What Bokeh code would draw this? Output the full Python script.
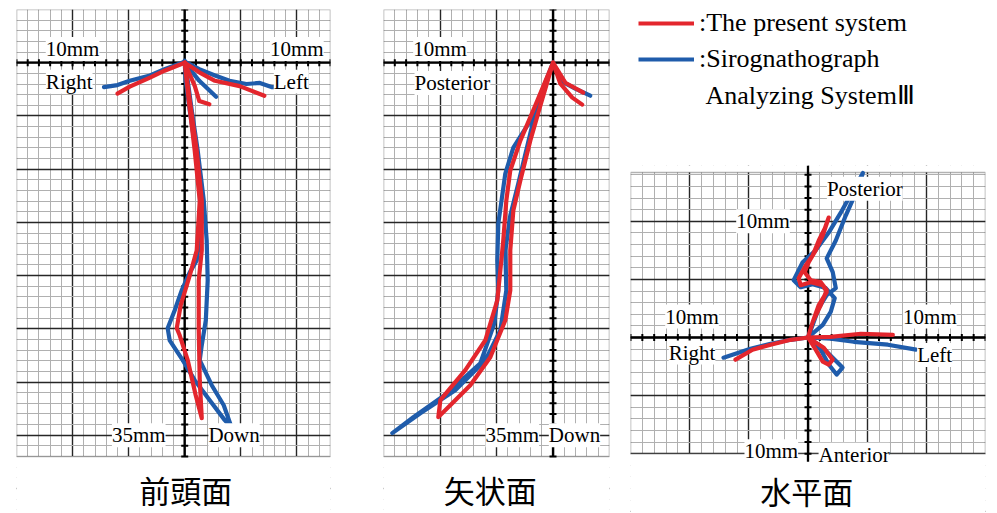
import numpy as np
from bokeh.plotting import figure
from bokeh.models import (Range1d, SingleIntervalTicker, Grid, Label, Legend, LegendItem,
                          BoxAnnotation)
from bokeh.layouts import row, column
from bokeh.embed import file_html
from bokeh.resources import INLINE

RED = "#e3262d"
BLUE = "#1f5cab"
SERIF = "Liberation Serif"

# ---------------- data (mm) ----------------
# Frontal plane (前頭面): x = lateral, y = vertical (down negative)
fr_blue_right_x = [0, -1.8, -3.1, -4.9, -6.0, -7.2]
fr_blue_right_y = [0.1, -0.6, -1.2, -1.7, -2.1, -2.3]
fr_blue_left_x = [0, 1.3, 2.7, 4.0, 5.5, 6.7, 7.8, 8.9]
fr_blue_left_y = [0.1, -0.6, -1.2, -1.7, -2.0, -1.9, -2.3, -2.3]
fr_blue_short_x = [0, 1.3, 2.8]
fr_blue_short_y = [0, -1.7, -3.2]
fr_blue_open_x = [0, 0.27, 0.63, 1.16, 1.70, 1.96, 2.05, 1.88, 1.52, 1.34, 2.41, 3.48, 4.20,
                  3.57, 2.23, 0.89, -0.18, -1.34, -1.52, -0.89, -0.27, 0.45, 1.07, 1.43, 1.34,
                  0.98, 0.45, 0.09, 0]
fr_blue_open_y = [0.19, -1.69, -4.50, -8.26, -12.95, -16.70, -20.45, -24.20, -26.55, -27.95,
                  -30.30, -32.18, -34.33, -33.58, -31.71, -29.83, -27.95, -26.08, -24.95,
                  -23.26, -21.39, -19.70, -18.57, -15.76, -12.01, -8.26, -4.50, -1.69, 0]

fr_red_right_x = [0, -1.8, -3.1, -4.9, -6.0]
fr_red_right_y = [0, -0.75, -1.4, -2.25, -2.9]
fr_red_left_x = [0, 1.3, 2.7, 4.9, 7.1]
fr_red_left_y = [0, -0.9, -1.7, -2.2, -3.1]
fr_red_short_x = [0, 0.9, 1.3, 2.2]
fr_red_short_y = [0, -2.2, -3.6, -3.9]
fr_red_open_x = [0, 0.45, 1.07, 1.52, 1.52, 1.25, 1.25, 1.34, 1.52, 0.98, 0.27, -0.45, -0.71,
                 -0.36, 0.45, 1.07, 1.34, 0.89, 0.36, 0]
fr_red_open_y = [0, -3.56, -8.26, -12.95, -17.64, -20.45, -25.14, -29.83, -33.40, -31.24,
                 -27.95, -25.61, -24.95, -22.80, -19.98, -17.64, -12.95, -8.26, -3.56, 0]

# Sagittal plane (矢状面): x = antero-posterior (posterior negative), y = vertical
sa_blue_ant_x = [0, 0.65, 1.97, 3.30]
sa_blue_ant_y = [0, -1.69, -2.44, -3.10]
sa_blue_open_x = [0, -1.83, -3.51, -4.22, -4.84, -4.93, -4.84, -5.19, -6.43, -9.35, -12.36,
                  -14.22, -11.74, -8.65, -5.99, -4.66, -4.13, -4.22, -3.78, -3.07, -2.01,
                  -1.30, 0]
sa_blue_open_y = [0, -5.16, -7.97, -10.41, -15.10, -18.57, -21.39, -24.48, -28.24, -31.05,
                  -33.30, -34.80, -32.93, -30.77, -27.95, -25.14, -21.39, -17.64, -14.35,
                  -11.35, -6.66, -3.56, 0]

sa_red_ant1_x = [0, 0.65, 1.71, 2.59]
sa_red_ant1_y = [0, -1.97, -3.28, -3.94]
sa_red_ant2_x = [0, 1.09, 2.68]
sa_red_ant2_y = [0, -1.88, -2.81]
sa_red_open_x = [0, -1.57, -2.89, -3.78, -4.13, -4.40, -4.66, -4.93, -5.99, -7.76, -9.97,
                 -10.15, -9.09, -7.32, -5.55, -4.22, -3.78, -3.78, -3.51, -2.89, -2.01,
                 -1.12, 0]
sa_red_open_y = [0, -4.03, -7.32, -10.13, -12.95, -16.70, -19.51, -22.33, -26.08, -28.89,
                 -31.71, -33.30, -32.18, -30.30, -27.67, -24.20, -21.39, -17.64, -13.88,
                 -11.07, -7.32, -4.03, 0]

# Horizontal plane (水平面): x = lateral, y = antero-posterior (posterior positive)
ho_blue_right_x = [0, -1.47, -3.16, -4.86, -7.14]
ho_blue_right_y = [0, -0.20, -0.54, -0.97, -1.74]
ho_blue_left_x = [0, 1.92, 3.87, 6.75, 9.13]
ho_blue_left_y = [0, -0.11, -0.37, -0.62, -1.05]
ho_blue_ant_x = [0, 1.08, 1.75, 2.42, 2.92, 2.09, 1.25, 0]
ho_blue_ant_y = [0, -1.05, -2.33, -3.19, -2.59, -1.74, -0.88, 0]
ho_blue_post_x = [0, 0.40, 0.91, 1.58, 2.35, 2.09, 1.58, 2.35, 3.19, 4.30, 4.64, 3.79, 2.77,
                  1.75, 0.65, -0.45, -1.21, -0.62, 0.40, 1.50, 2.26, 1.92, 1.25, 0]
ho_blue_post_y = [0, 1.09, 2.54, 3.65, 4.25, 5.62, 6.81, 8.35, 10.49, 13.05, 14.16, 12.62,
                  10.74, 9.03, 7.50, 6.47, 4.93, 4.33, 4.59, 4.25, 3.39, 2.20, 1.09, 0]

ho_red_right_x = [0, -1.47, -3.16, -4.69, -6.13]
ho_red_right_y = [0, -0.20, -0.62, -1.05, -1.91]
ho_red_left_x = [0, 1.92, 4.47, 7.17]
ho_red_left_y = [0, 0.06, 0.32, 0.23]
ho_red_ant_x = [0, 0.65, 1.25, 1.75, 2.09, 1.33, 0]
ho_red_ant_y = [0, -1.05, -2.08, -2.33, -1.91, -0.88, 0]
ho_red_post_x = [0, 0.40, 0.91, 1.58, 1.25, 0.23, -0.62, -0.79, -0.19, 0.40, 0.91, 1.42, 1.75,
                 1.25, 0.65, 0.06, -0.28, 0.23, 1.08, 1.58, 1.08, 0.40, 0]
ho_red_post_y = [0, 1.34, 2.79, 3.91, 4.50, 4.76, 4.50, 5.10, 6.21, 7.07, 8.35, 9.38, 10.32,
                 8.78, 7.50, 6.47, 5.62, 4.93, 4.76, 4.08, 2.79, 1.34, 0]

legend_labels = [":The present system", ":Sirognathograph", "\u00a0Analyzing System\u2162"]
panel_titles = ["前頭面", "矢状面", "水平面"]


def panel(xr, yr, box, vext, fw, fh, bl, br, bt):
    """Graph-paper panel: frame covers xr x yr; the ruled box is `box`."""
    p = figure(x_range=Range1d(*xr), y_range=Range1d(*yr), frame_width=fw, frame_height=fh,
               min_border_left=bl, min_border_right=br, min_border_top=bt, min_border_bottom=0,
               x_axis_type=None, y_axis_type=None, toolbar_location=None,
               output_backend="svg")
    p.outline_line_color = None
    p.background_fill_color = "white"
    p.border_fill_color = "white"
    for dim in (0, 1):
        p.add_layout(Grid(dimension=dim,
                          ticker=SingleIntervalTicker(interval=5, num_minor_ticks=5),
                          grid_line_color="#262626", grid_line_width=1.4,
                          minor_grid_line_color="#b0b0b0", minor_grid_line_width=1))
    x0, x1, y0, y1 = box
    # white paper outside the ruled box
    p.add_layout(BoxAnnotation(top=y0, fill_color="white", fill_alpha=1, line_alpha=0,
                               level="underlay"))
    p.add_layout(BoxAnnotation(bottom=y1, fill_color="white", fill_alpha=1, line_alpha=0,
                               level="underlay"))
    p.add_layout(BoxAnnotation(left=x0, right=x1, bottom=y0, top=y1, fill_alpha=0,
                               line_color="black", line_width=1.6, level="underlay"))
    # central axes with tick marks
    p.segment(x0=[x0, 0], y0=[0, vext[0]], x1=[x1, 0], y1=[0, vext[1]],
              line_color="black", line_width=2.3)
    xt = [v for v in np.arange(np.ceil(x0), np.floor(x1) + 1) if v != 0]
    yt = [v for v in np.arange(np.ceil(y0), np.floor(y1) + 1) if v != 0]
    p.scatter(xt, [0] * len(xt), marker="dash", angle=np.pi / 2, size=7, line_width=2,
              line_color="black")
    p.scatter([0] * len(yt), yt, marker="dash", size=7, line_width=2, line_color="black")
    return p


def lab(p, x, y, text):
    p.add_layout(Label(x=x, y=y, text=text, text_font=SERIF, text_font_size="21px",
                       text_align="center", text_baseline="middle", text_color="black",
                       background_fill_color="white", level="glyph"))


def title(p, x, y, text):
    p.add_layout(Label(x=x, y=y, text=text, text_font="Noto Sans CJK JP",
                       text_font_size="31px", text_align="center", text_baseline="middle",
                       text_color="black"))


def trace(p, xs, ys, color):
    p.line(xs, ys, line_color=color, line_width=4.2, line_join="round", line_cap="round")


# ---------------- frontal ----------------
p1 = panel((-15, 13), (-42.26, 5), (-15, 13, -37, 5), (-37, 5), 314, 503, 16, 20, 9)
lab(p1, -10, 1.3, "10mm")
lab(p1, 10, 1.3, "10mm")
lab(p1, -10.3, -1.8, "Right")
lab(p1, 9.5, -1.8, "Left")
lab(p1, -4.1, -35, "35mm")
lab(p1, 4.4, -35, "Down")
title(p1, 0.1, -40.1, panel_titles[0])
for xs, ys in [(fr_blue_right_x, fr_blue_right_y), (fr_blue_left_x, fr_blue_left_y),
               (fr_blue_short_x, fr_blue_short_y), (fr_blue_open_x, fr_blue_open_y)]:
    trace(p1, xs, ys, BLUE)
for xs, ys in [(fr_red_right_x, fr_red_right_y), (fr_red_left_x, fr_red_left_y),
               (fr_red_short_x, fr_red_short_y), (fr_red_open_x, fr_red_open_y)]:
    trace(p1, xs, ys, RED)

# ---------------- sagittal ----------------
p2 = panel((-15, 5), (-42.26, 5), (-15, 5, -37, 5), (-37, 5), 226, 503, 33, 6, 9)
lab(p2, -10, 1.3, "10mm")
lab(p2, -8.9, -1.9, "Posterior")
lab(p2, -3.6, -35, "35mm")
lab(p2, 1.9, -35, "Down")
title(p2, -5.55, -40.1, panel_titles[1])
for xs, ys in [(sa_blue_ant_x, sa_blue_ant_y), (sa_blue_open_x, sa_blue_open_y)]:
    trace(p2, xs, ys, BLUE)
for xs, ys in [(sa_red_ant1_x, sa_red_ant1_y), (sa_red_ant2_x, sa_red_ant2_y),
               (sa_red_open_x, sa_red_open_y)]:
    trace(p2, xs, ys, RED)

# ---------------- horizontal ----------------
p3 = panel((-15, 15), (-15.06, 14.8), (-15, 15, -10, 14.2), (-10.7, 14.8), 355, 347, 15, 4, 17)
lab(p3, 4.8, 12.8, "Posterior")
lab(p3, -3.8, 10.0, "10mm")
lab(p3, -9.8, 1.8, "10mm")
lab(p3, 10.3, 1.8, "10mm")
lab(p3, -9.8, -1.3, "Right")
lab(p3, 10.7, -1.5, "Left")
lab(p3, -3.1, -9.8, "10mm")
lab(p3, 3.9, -10.1, "Anterior")
title(p3, -0.1, -13.17, panel_titles[2])
for xs, ys in [(ho_blue_right_x, ho_blue_right_y), (ho_blue_left_x, ho_blue_left_y),
               (ho_blue_ant_x, ho_blue_ant_y), (ho_blue_post_x, ho_blue_post_y)]:
    trace(p3, xs, ys, BLUE)
for xs, ys in [(ho_red_right_x, ho_red_right_y), (ho_red_left_x, ho_red_left_y),
               (ho_red_ant_x, ho_red_ant_y), (ho_red_post_x, ho_red_post_y)]:
    trace(p3, xs, ys, RED)

# ---------------- legend ----------------
leg = figure(x_range=Range1d(0, 1), y_range=Range1d(0, 1), frame_width=355, frame_height=148,
             min_border_left=15, min_border_right=4, min_border_top=0, min_border_bottom=0,
             x_axis_type=None, y_axis_type=None, toolbar_location=None, output_backend="svg")
leg.outline_line_color = None
leg.border_fill_color = "white"
r1 = leg.line(x=[np.nan], y=[np.nan], line_color=RED, line_width=4)
r2 = leg.line(x=[np.nan], y=[np.nan], line_color=BLUE, line_width=4)
r3 = leg.line(x=[np.nan], y=[np.nan], line_color=BLUE, line_alpha=0)
legend = Legend(items=[LegendItem(label=legend_labels[0], renderers=[r1]),
                       LegendItem(label=legend_labels[1], renderers=[r2]),
                       LegendItem(label=legend_labels[2], renderers=[r3])],
                location="top_left", margin=8, padding=4, spacing=6, glyph_width=56,
                glyph_height=30, label_height=30, label_standoff=5,
                label_text_font=SERIF, label_text_font_size="26px", label_text_color="black",
                border_line_color=None, background_fill_alpha=0)
leg.add_layout(legend)

layout = row(p1, p2, column(leg, p3))
open("out.html", "w").write(file_html(layout, INLINE))
